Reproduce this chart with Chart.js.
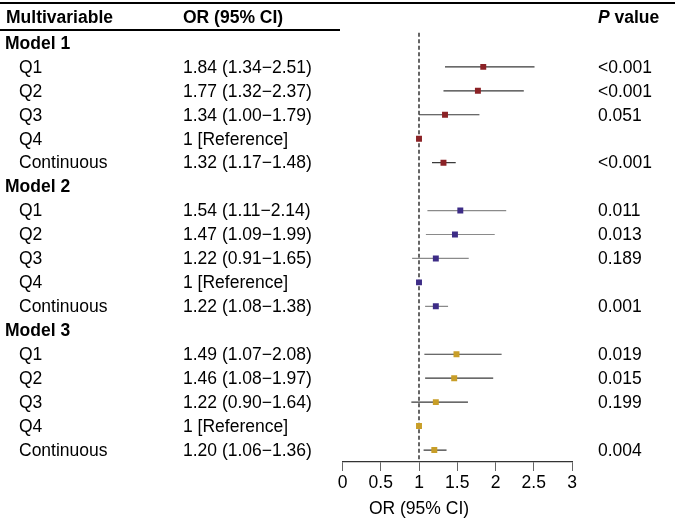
<!DOCTYPE html>
<html>
<head>
<meta charset="utf-8">
<script src="https://cdn.jsdelivr.net/npm/chart.js@4.4.1/dist/chart.umd.min.js"></script>
<style>
  body { margin: 0; background: #fff; }
  #wrap { width: 675px; height: 518px; position: relative; }
</style>
</head>
<body>
<div id="wrap"><canvas id="forest"></canvas></div>
<script>
// data
const models = ['Model 1', 'Model 2', 'Model 3'];
const levels = ['Q1', 'Q2', 'Q3', 'Q4', 'Continuous'];
const refLevel = 3; // Q4 is the reference
const or1 = [1.84, 1.77, 1.34, 1, 1.32];
const lo1 = [1.34, 1.32, 1.00, 1, 1.17];
const hi1 = [2.51, 2.37, 1.79, 1, 1.48];
const or2 = [1.54, 1.47, 1.22, 1, 1.22];
const lo2 = [1.11, 1.09, 0.91, 1, 1.08];
const hi2 = [2.14, 1.99, 1.65, 1, 1.38];
const or3 = [1.49, 1.46, 1.22, 1, 1.20];
const lo3 = [1.07, 1.08, 0.90, 1, 1.06];
const hi3 = [2.08, 1.97, 1.64, 1, 1.36];
const p1 = ['<0.001', '<0.001', '0.051', '', '<0.001'];
const p2 = ['0.011', '0.013', '0.189', '', '0.001'];
const p3 = ['0.019', '0.015', '0.199', '', '0.004'];
const xTicks = [0, 0.5, 1, 1.5, 2, 2.5, 3];

const ORs = [or1, or2, or3], LOs = [lo1, lo2, lo3], HIs = [hi1, hi2, hi3], Ps = [p1, p2, p3];
const markColors = ['#8b2226', '#3d2c86', '#c89e28'];
const ciColors = ['#3a3a3a', '#8a8a8a', '#3a3a3a'];
const FONT = '"Liberation Sans", Arial, Helvetica, sans-serif';
const FS = 17.5;

// row index: model header rows then its levels
function rowOf(m, i) { return m * (levels.length + 1) + 1 + i; }

const datasets = [];
models.forEach((name, m) => {
  const ci = [];
  levels.forEach((lv, i) => {
    if (i === refLevel) return;
    ci.push({x: LOs[m][i], y: rowOf(m, i)});
    ci.push({x: HIs[m][i], y: rowOf(m, i)});
    ci.push({x: HIs[m][i], y: null});
  });
  datasets.push({
    type: 'line', label: name + ' CI', data: ci,
    borderColor: ciColors[m], borderWidth: 1.2, pointRadius: 0, spanGaps: false, order: 2
  });
  datasets.push({
    type: 'scatter', label: name,
    data: ORs[m].map((v, i) => ({x: v, y: rowOf(m, i)})),
    pointStyle: 'rect', pointRadius: 4.2, pointHoverRadius: 4.2,
    backgroundColor: markColors[m], borderColor: markColors[m], borderWidth: 0, order: 1
  });
});

const tablePlugin = {
  id: 'tableText',
  beforeDatasetsDraw(chart) {
    const ctx = chart.ctx, ys = chart.scales.y, xs = chart.scales.x;
    // reference line at OR = 1
    ctx.save();
    ctx.strokeStyle = '#555';
    ctx.lineWidth = 1.8;
    ctx.setLineDash([4, 2.5]);
    const xr = xs.getPixelForValue(1);
    ctx.beginPath();
    ctx.moveTo(xr, ys.getPixelForValue(-0.42));
    ctx.lineTo(xr, chart.chartArea.bottom);
    ctx.stroke();
    ctx.restore();
  },
  afterDraw(chart) {
    const ctx = chart.ctx, ys = chart.scales.y, xs = chart.scales.x;
    const W = chart.width;
    ctx.save();
    ctx.fillStyle = '#000';
    ctx.textBaseline = 'middle';
    // rules
    ctx.fillRect(0, 2, W, 2);
    ctx.fillRect(0, 29, 340, 2);
    const yh = ys.getPixelForValue(-1) - 1;
    ctx.font = 'bold ' + FS + 'px ' + FONT;
    ctx.fillText('Multivariable', 6, yh);
    ctx.fillText('OR (95% CI)', 183, yh);
    ctx.font = 'italic bold ' + FS + 'px ' + FONT;
    ctx.fillText('P', 598, yh);
    const pw = ctx.measureText('P ').width;
    ctx.font = 'bold ' + FS + 'px ' + FONT;
    ctx.fillText('value', 598 + pw, yh);

    models.forEach((name, m) => {
      ctx.font = 'bold ' + FS + 'px ' + FONT;
      ctx.fillText(name, 5, ys.getPixelForValue(m * (levels.length + 1)) + 1);
      ctx.font = FS + 'px ' + FONT;
      levels.forEach((lv, i) => {
        const y = ys.getPixelForValue(rowOf(m, i)) + 1;
        ctx.fillText(lv, 19, y);
        const txt = i === refLevel ? '1 [Reference]' :
          ORs[m][i].toFixed(2) + ' (' + LOs[m][i].toFixed(2) + '\u2212' + HIs[m][i].toFixed(2) + ')';
        ctx.fillText(txt, 183, y);
        if (Ps[m][i]) ctx.fillText(Ps[m][i], 598, y);
      });
    });
    // axis title, centred under the reference value
    ctx.font = FS + 'px ' + FONT;
    ctx.textAlign = 'center';
    ctx.fillText('OR (95% CI)', xs.getPixelForValue(1), chart.chartArea.bottom + 47);
    ctx.restore();
  }
};

new Chart(document.getElementById('forest'), {
  data: {datasets: datasets},
  options: {
    responsive: true,
    maintainAspectRatio: false,
    animation: false,
    events: [],
    layout: {padding: {left: 342.5, right: 103, top: 7, bottom: 22}},
    plugins: {legend: {display: false}, tooltip: {enabled: false}},
    scales: {
      x: {
        type: 'linear', min: 0, max: 3,
        afterBuildTicks: (s) => { s.ticks = xTicks.map(v => ({value: v})); },
        grid: {drawOnChartArea: false, tickLength: 9, color: '#666', lineWidth: 1},
        border: {color: '#333', width: 1.3},
        ticks: {color: '#000', padding: 2, font: {family: FONT, size: FS}, maxRotation: 0,
          callback: (v) => String(v)}
      },
      y: {type: 'linear', reverse: true, min: -1.5, max: 17.5, display: false}
    }
  },
  plugins: [tablePlugin]
});
</script>
</body>
</html>
